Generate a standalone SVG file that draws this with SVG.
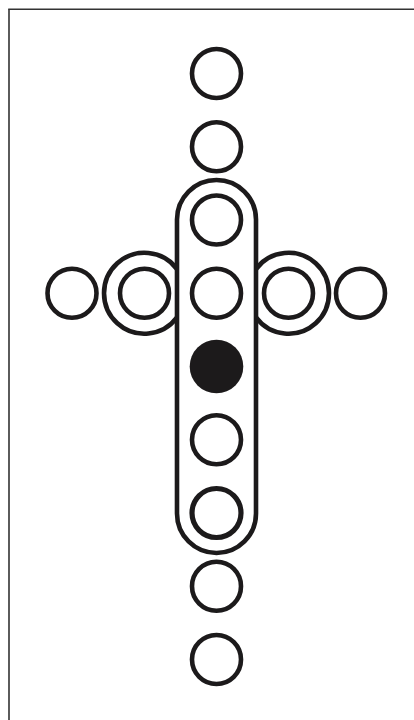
<svg xmlns="http://www.w3.org/2000/svg" width="414" height="720" viewBox="0 0 414 720">
  <style>
    .ring { fill: none; stroke: #1c1a1b; stroke-width: 4.6; }
    .solid { fill: #1c1a1b; stroke: none; }
    .frame { fill: none; stroke: #333333; stroke-width: 1.6; }
  </style>
  <rect x="0" y="0" width="414" height="720" fill="#ffffff"/>
  <g id="frame">
    <line class="frame" x1="8.2" y1="9.3" x2="414" y2="9.3"/>
    <line class="frame" x1="9" y1="9.3" x2="9" y2="720"/>
  </g>
  <g id="capsule">
    <rect class="ring" x="177" y="180" width="79" height="373" rx="39.5" ry="39.5"/>
  </g>
  <g id="c1"><circle class="ring" cx="216.5" cy="73.5" r="24.5"/></g>
  <g id="c2"><circle class="ring" cx="216.5" cy="146.75" r="24.5"/></g>
  <g id="c3"><circle class="ring" cx="216.5" cy="220" r="24.5"/></g>
  <g id="c4"><circle class="ring" cx="216.5" cy="293.25" r="24.5"/></g>
  <g id="c5"><circle class="solid" cx="216.5" cy="366.5" r="26.8"/></g>
  <g id="c6"><circle class="ring" cx="216.5" cy="439.75" r="24.5"/></g>
  <g id="c7"><circle class="ring" cx="216.5" cy="513" r="24.5" style="stroke-width:5.2"/></g>
  <g id="c8"><circle class="ring" cx="216.5" cy="586.25" r="24.5"/></g>
  <g id="c9"><circle class="ring" cx="216.5" cy="659.5" r="24.5"/></g>
  <g id="left-far"><circle class="ring" cx="72" cy="293.25" r="24.5"/></g>
  <g id="left-double">
    <circle class="ring" cx="144.5" cy="293.25" r="24.5"/>
    <path class="ring" d="M177,269.05 A40.5,40.5 0 1 0 177,317.45"/>
  </g>
  <g id="right-double">
    <circle class="ring" cx="288.5" cy="293.25" r="24.5"/>
    <path class="ring" d="M256,269.05 A40.5,40.5 0 1 1 256,317.45"/>
  </g>
  <g id="right-far"><circle class="ring" cx="360.5" cy="293.25" r="24.5"/></g>
  <g id="connectors"></g>
</svg>
